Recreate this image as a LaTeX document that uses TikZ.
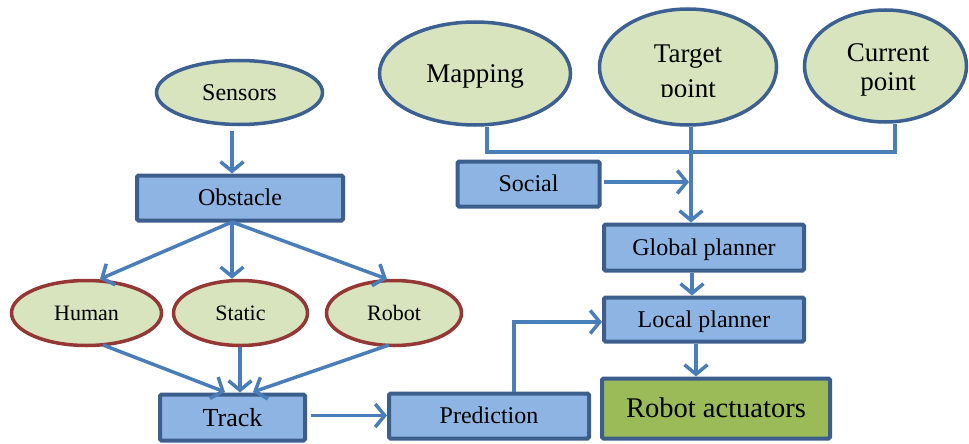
\documentclass[tikz,border=0pt]{standalone}
\usepackage{fontspec}
\setmainfont{Liberation Serif}
\usetikzlibrary{arrows.meta,shapes.geometric}
\definecolor{ovalfill}{HTML}{D7E4BD}
\definecolor{ovalblue}{HTML}{3C6091}
\definecolor{ovalred}{HTML}{953735}
\definecolor{boxfill}{HTML}{8DB4E2}
\definecolor{boxline}{HTML}{3B5E8C}
\definecolor{actfill}{HTML}{9BBB59}
\definecolor{wirecol}{HTML}{4A7EBB}

\begin{document}
\begin{tikzpicture}[x=1pt,y=-1pt,
  oval/.style={ellipse, draw=ovalblue, fill=ovalfill, line width=3.5pt, inner sep=0pt, text depth=0pt},
  redoval/.style={oval, draw=ovalred},
  box/.style={rectangle, draw=boxline, fill=boxfill, line width=4pt, inner sep=0pt, rounded corners=1.5pt, text depth=0pt},
  wire/.style={draw=wirecol, line width=3.5pt},
  arrow/.style={wire, -{Straight Barb[length=9.5pt,width=23pt]}},
  % font sizes; the text height equals the cap height, so capitals sit centred
  fs22/.style={font=\fontsize{22}{26}\selectfont, text height=14.5pt},
  fs24/.style={font=\fontsize{24}{28}\selectfont, text height=15.8pt},
  fs26/.style={font=\fontsize{26}{30}\selectfont, text height=17.2pt},
  fs27/.style={font=\fontsize{27}{31}\selectfont, text height=17.8pt},
  fs28/.style={font=\fontsize{28.5}{33}\selectfont, text height=18.8pt}
]
\useasboundingbox (0,0) rectangle (969,444);

% perception branch
\node[oval, fs24, minimum width=166pt, minimum height=64pt] (sensors) at (239.5,92.5) {Sensors};
\node[box, fs24, minimum width=206pt, minimum height=45pt] (obstacle) at (240,198) {Obstacle};
\node[redoval, fs22, minimum width=150pt, minimum height=65pt] (human) at (86.5,313) {Human};
\node[redoval, fs22, minimum width=134pt, minimum height=65pt] (static) at (240.5,313) {Static};
\node[redoval, fs22, minimum width=135pt, minimum height=65pt] (robot) at (394,313) {Robot};
\node[box, fs26, minimum width=145pt, minimum height=46pt] (track) at (232.5,417.5) {Track};
\node[box, fs24, minimum width=200pt, minimum height=45pt] (prediction) at (489,416) {Prediction};

% planning branch
\node[oval, fs27, minimum width=191pt, minimum height=103pt] (mapping) at (475,73.5) {Mapping};
\node[oval, minimum width=177pt, minimum height=116pt] (target) at (688,67) {};
\node[oval, minimum width=162pt, minimum height=112pt] (current) at (885.5,66) {};
\node[box, fs24, minimum width=142pt, minimum height=45pt] (social) at (528.5,184) {Social};
\node[box, fs24, minimum width=200pt, minimum height=46pt] (global) at (704,247.5) {Global planner};
\node[box, fs24, minimum width=200pt, minimum height=44pt] (local) at (704,319.5) {Local planner};
\node[box, fs28, fill=actfill, minimum width=228pt, minimum height=60pt] (act) at (716,408.5) {Robot actuators};

% two-line labels of the upper ovals
\begin{scope}
  \clip (598,0) rectangle (780,96.5);
  \node[fs27, anchor=base, inner sep=0pt] (targetA) at (688,63) {Target};
  \node[fs27, anchor=base, inner sep=0pt] (targetB) at (688,97.5) {point};
\end{scope}
\node[fs27, anchor=base, inner sep=0pt] (currentA) at (888,62) {Current};
\node[fs27, anchor=base, inner sep=0pt] (currentB) at (888,91) {point};

% hub point of the obstacle fan-out
\coordinate (hub) at (232,222);

\draw[arrow] (232,131) -- (232,0 |- obstacle.north);
\draw[arrow] (hub) -- (100,279);
\draw[arrow] (hub) -- (232,0 |- static.north);
\draw[arrow] (hub) -- (387,279);

\draw[arrow] (103,345) -- (225,392);
\draw[arrow] (240,347) -- (240,0 |- track.north);
\draw[arrow] (389,345) -- (253,392);

\draw[arrow] (track.east) ++(4,-2) -- (prediction.west |- 0,415.5);
\draw[arrow] (514,0 |- prediction.north) -- (514,322) -- (local.west |- 0,322);

\draw[wire] (487,0 |- mapping.south) -- (487,152) -- (895,152) -- (895,0 |- current.south);
\draw[arrow] (691,0 |- target.south) -- (691,0 |- global.north);
\draw[arrow] (social.east |- 0,182) ++(2,0) -- (689,182);

\draw[arrow] (692,0 |- global.south) -- (692,0 |- local.north);
\draw[arrow] (696,0 |- local.south) -- (696,0 |- act.north);
\end{tikzpicture}
\end{document}
